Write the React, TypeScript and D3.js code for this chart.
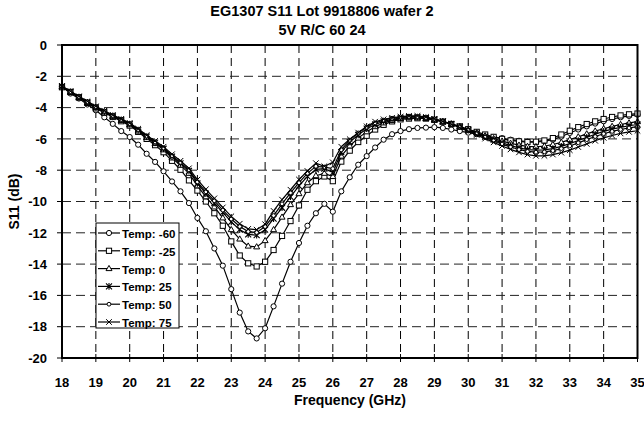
import React from "react";
import { line, scaleLinear } from "d3";

// frequency grid of the sweep (GHz)
const FREQ = [
  18, 18.25, 18.5, 18.75, 19, 19.25, 19.5, 19.75, 20, 20.25, 20.5, 20.75,
  21, 21.25, 21.5, 21.75, 22, 22.25, 22.5, 22.75, 23, 23.25, 23.5, 23.75,
  24, 24.25, 24.5, 24.75, 25, 25.25, 25.5, 25.75, 26, 26.25, 26.5, 26.75,
  27, 27.25, 27.5, 27.75, 28, 28.25, 28.5, 28.75, 29, 29.25, 29.5, 29.75,
  30, 30.25, 30.5, 30.75, 31, 31.25, 31.5, 31.75, 32, 32.25, 32.5, 32.75,
  33, 33.25, 33.5, 33.75, 34, 34.25, 34.5, 34.75, 35,
];

const TEMP_M60 = [
  -2.65, -3.1, -3.42, -3.8, -4.17, -4.62, -5.04, -5.5, -5.88, -6.37, -6.95, -7.47, -8.07, -8.72, -9.35, -10.1,
  -11.05, -11.9, -13.0, -14.1, -15.6, -17.1, -18.3, -18.75, -18.1, -16.7, -15.25, -13.85,
  -12.65, -11.55, -10.75, -10.15, -10.65, -9.35, -8.45, -7.65, -7.1, -6.55, -6.05, -5.7,
  -5.5, -5.38, -5.3, -5.28, -5.25, -5.3, -5.4, -5.5, -5.6, -5.7, -5.8, -5.88, -5.95, -6.05, -6.12, -6.18,
  -6.2, -6.15, -6.05, -5.85, -5.62, -5.4, -5.2, -5.02, -4.87, -4.73, -4.62, -4.53, -4.45,
];
const TEMP_M25 = [
  -2.7, -3.0, -3.35, -3.7, -4.05, -4.33, -4.6, -4.87, -5.15, -5.55, -6.0, -6.4, -6.85, -7.4, -7.97, -8.65,
  -9.3, -10.0, -10.75, -11.55, -12.55, -13.45, -13.95, -14.15, -13.85, -13.1, -12.2, -11.25,
  -10.25, -9.25, -8.7, -8.4, -8.7, -7.45, -6.75, -6.2, -5.8, -5.4, -5.1, -4.88,
  -4.75, -4.7, -4.68, -4.7, -4.78, -4.9, -5.05, -5.2, -5.38, -5.55, -5.72, -5.87, -6.0, -6.1, -6.16, -6.2,
  -6.18, -6.1, -5.95, -5.72, -5.48, -5.25, -5.05, -4.88, -4.73, -4.6, -4.5, -4.43, -4.38,
];
const TEMP_0 = [
  -2.68, -3.0, -3.35, -3.68, -4.0, -4.28, -4.56, -4.82, -5.1, -5.5, -5.92, -6.3, -6.7, -7.22, -7.68, -8.2,
  -9.0, -9.7, -10.35, -11.05, -11.8, -12.4, -12.85, -12.9, -12.5, -11.8, -11.0, -10.2,
  -9.5, -8.8, -8.35, -8.2, -8.4, -7.1, -6.45, -5.95, -5.55, -5.22, -4.98, -4.82,
  -4.7, -4.65, -4.65, -4.7, -4.78, -4.9, -5.05, -5.22, -5.42, -5.6, -5.8, -5.98, -6.14, -6.28, -6.4, -6.48,
  -6.5, -6.46, -6.36, -6.22, -6.05, -5.87, -5.68, -5.5, -5.35, -5.2, -5.08, -4.98, -4.9,
];
const TEMP_25 = [
  -2.65, -3.0, -3.33, -3.66, -3.98, -4.26, -4.53, -4.78, -5.05, -5.44, -5.86, -6.24, -6.63, -7.13, -7.57, -8.05,
  -8.85, -9.5, -10.1, -10.7, -11.3, -11.8, -12.1, -12.15, -11.8, -11.1, -10.4, -9.7,
  -9.0, -8.4, -7.95, -7.9, -8.15, -6.85, -6.2, -5.75, -5.35, -5.08, -4.88, -4.75,
  -4.65, -4.6, -4.6, -4.65, -4.75, -4.88, -5.04, -5.22, -5.44, -5.64, -5.85, -6.05, -6.25, -6.42, -6.57, -6.68,
  -6.72, -6.7, -6.62, -6.48, -6.3, -6.1, -5.9, -5.7, -5.52, -5.38, -5.26, -5.16, -5.08,
];
const TEMP_50 = [
  -2.65, -2.98, -3.3, -3.63, -3.95, -4.23, -4.5, -4.75, -5.02, -5.4, -5.82, -6.2, -6.58, -7.07, -7.5, -7.98,
  -8.75, -9.38, -9.95, -10.55, -11.12, -11.6, -11.92, -11.98, -11.6, -10.9, -10.15, -9.45,
  -8.8, -8.2, -7.75, -7.8, -7.9, -6.7, -6.08, -5.62, -5.25, -4.98, -4.8, -4.68,
  -4.6, -4.56, -4.57, -4.63, -4.74, -4.88, -5.05, -5.25, -5.47, -5.68, -5.9, -6.12, -6.33, -6.52, -6.68, -6.8,
  -6.85, -6.83, -6.75, -6.62, -6.45, -6.25, -6.05, -5.85, -5.67, -5.52, -5.4, -5.3, -5.22,
];
const TEMP_75 = [
  -2.62, -2.95, -3.28, -3.6, -3.92, -4.2, -4.47, -4.72, -4.98, -5.35, -5.76, -6.13, -6.5, -6.98, -7.4, -7.88,
  -8.6, -9.22, -9.8, -10.38, -10.95, -11.42, -11.75, -11.8, -11.45, -10.6, -9.88, -9.25,
  -8.6, -8.05, -7.55, -7.75, -7.5, -6.5, -6.02, -5.6, -5.2, -4.9, -4.75, -4.65,
  -4.58, -4.53, -4.53, -4.6, -4.72, -4.88, -5.06, -5.28, -5.52, -5.75, -5.98, -6.22, -6.45, -6.67, -6.86, -7.0,
  -7.08, -7.08, -7.0, -6.88, -6.72, -6.52, -6.32, -6.12, -5.93, -5.78, -5.65, -5.55, -5.48,
];

const SERIES_NAMES = ["Temp: -60", "Temp: -25", "Temp: 0", "Temp: 25", "Temp: 50", "Temp: 75"];
const SERIES_VALUES = [TEMP_M60, TEMP_M25, TEMP_0, TEMP_25, TEMP_50, TEMP_75];
const MARKERS = ["circle", "square", "triangle", "asterisk", "dot", "cross"];

const X_TICKS = [18, 19, 20, 21, 22, 23, 24, 25, 26, 27, 28, 29, 30, 31, 32, 33, 34, 35];
const Y_TICKS = [0, -2, -4, -6, -8, -10, -12, -14, -16, -18, -20];

const width = 644;
const height = 426;
const margin = { top: 45, right: 6.5, bottom: 68, left: 62 };
const innerWidth = width - margin.left - margin.right;
const innerHeight = height - margin.top - margin.bottom;

const xScale = scaleLinear().domain([18, 35]).range([0, innerWidth]);
const yScale = scaleLinear().domain([-20, 0]).range([innerHeight, 0]);

const font = "'Liberation Sans', Arial, sans-serif";

function Marker({ kind, cx, cy }: { kind: string; cx: number; cy: number }) {
  const common = { stroke: "black", strokeWidth: 1, fill: "white" };
  if (kind === "circle") return <circle cx={cx} cy={cy} r={2.6} {...common} />;
  if (kind === "dot") return <circle cx={cx} cy={cy} r={1.9} {...common} />;
  if (kind === "square")
    return <rect x={cx - 2.6} y={cy - 2.6} width={5.2} height={5.2} {...common} />;
  if (kind === "triangle")
    return (
      <path d={`M${cx},${cy - 3.2}L${cx + 3},${cy + 2}L${cx - 3},${cy + 2}Z`} {...common} />
    );
  if (kind === "cross")
    return (
      <path
        d={`M${cx - 2.8},${cy - 2.8}L${cx + 2.8},${cy + 2.8}M${cx - 2.8},${cy + 2.8}L${cx + 2.8},${cy - 2.8}`}
        stroke="black"
        strokeWidth={1}
      />
    );
  // asterisk
  return (
    <path
      d={`M${cx - 3},${cy - 3}L${cx + 3},${cy + 3}M${cx - 3},${cy + 3}L${cx + 3},${cy - 3}M${cx},${cy - 3.3}L${cx},${cy + 3.3}`}
      stroke="black"
      strokeWidth={1.1}
    />
  );
}

export default function App() {
  const shape = line<number>()
    .x((_, i) => xScale(FREQ[i]))
    .y((d) => yScale(d));

  const legendX = 96;
  const legendY = 223;

  return (
    <svg
      width={width}
      height={height}
      viewBox={`0 0 ${width} ${height}`}
      style={{ position: "absolute", left: 0, top: 0, background: "white" }}
      fontFamily={font}
      fontWeight="bold"
    >
      <text x={322} y={15.5} textAnchor="middle" fontSize={14.5}>
        EG1307 S11 Lot 9918806 wafer 2
      </text>
      <text x={322} y={34.5} textAnchor="middle" fontSize={14.5}>
        5V R/C 60 24
      </text>

      <g transform={`translate(${margin.left}, ${margin.top})`}>
        {/* grid */}
        {X_TICKS.slice(1, -1).map((t) => (
          <line
            key={`gx${t}`}
            x1={xScale(t)}
            x2={xScale(t)}
            y1={0}
            y2={innerHeight}
            stroke="black"
            strokeWidth={1}
            strokeDasharray="8,5"
          />
        ))}
        {Y_TICKS.slice(1, -1).map((t) => (
          <line
            key={`gy${t}`}
            x1={0}
            x2={innerWidth}
            y1={yScale(t)}
            y2={yScale(t)}
            stroke="#222"
            strokeWidth={1}
            strokeDasharray="9,5"
          />
        ))}

        {/* ticks */}
        {X_TICKS.map((t) => (
          <g key={`tx${t}`}>
            <line x1={xScale(t)} x2={xScale(t)} y1={innerHeight - 4} y2={innerHeight + 4} stroke="black" />
            <text x={xScale(t)} y={innerHeight + 29} textAnchor="middle" fontSize={13}>
              {t}
            </text>
          </g>
        ))}
        {Y_TICKS.map((t) => (
          <g key={`ty${t}`}>
            <line x1={-5} x2={0} y1={yScale(t)} y2={yScale(t)} stroke="black" />
            <text x={-15} y={yScale(t) + 4.7} textAnchor="end" fontSize={13}>
              {t}
            </text>
          </g>
        ))}

        {/* series */}
        {SERIES_VALUES.map((vals, s) => (
          <g key={SERIES_NAMES[s]}>
            <path d={shape(vals) ?? ""} fill="none" stroke="black" strokeWidth={1.2} />
            {vals.map((v, i) => (
              <Marker key={i} kind={MARKERS[s]} cx={xScale(FREQ[i])} cy={yScale(v)} />
            ))}
          </g>
        ))}

        <rect x={0} y={0} width={innerWidth} height={innerHeight} fill="none" stroke="black" strokeWidth={2} />
      </g>

      {/* legend */}
      <g transform={`translate(${legendX}, ${legendY})`}>
        <rect x={0} y={0} width={83} height={105} fill="white" stroke="black" strokeWidth={1} />
        {SERIES_NAMES.map((name, i) => {
          const cy = 10 + i * 17.8;
          return (
            <g key={name}>
              <line x1={2} x2={24} y1={cy} y2={cy} stroke="black" strokeWidth={1.2} />
              <Marker kind={MARKERS[i]} cx={13} cy={cy} />
              <text x={26} y={cy + 5} fontSize={11.5}>
                {name}
              </text>
            </g>
          );
        })}
      </g>

      <text x={350} y={405} textAnchor="middle" fontSize={14}>
        Frequency (GHz)
      </text>
      <text
        transform={`translate(19, ${margin.top + innerHeight / 2}) rotate(-90)`}
        textAnchor="middle"
        fontSize={14}
      >
        S11 (dB)
      </text>
    </svg>
  );
}
